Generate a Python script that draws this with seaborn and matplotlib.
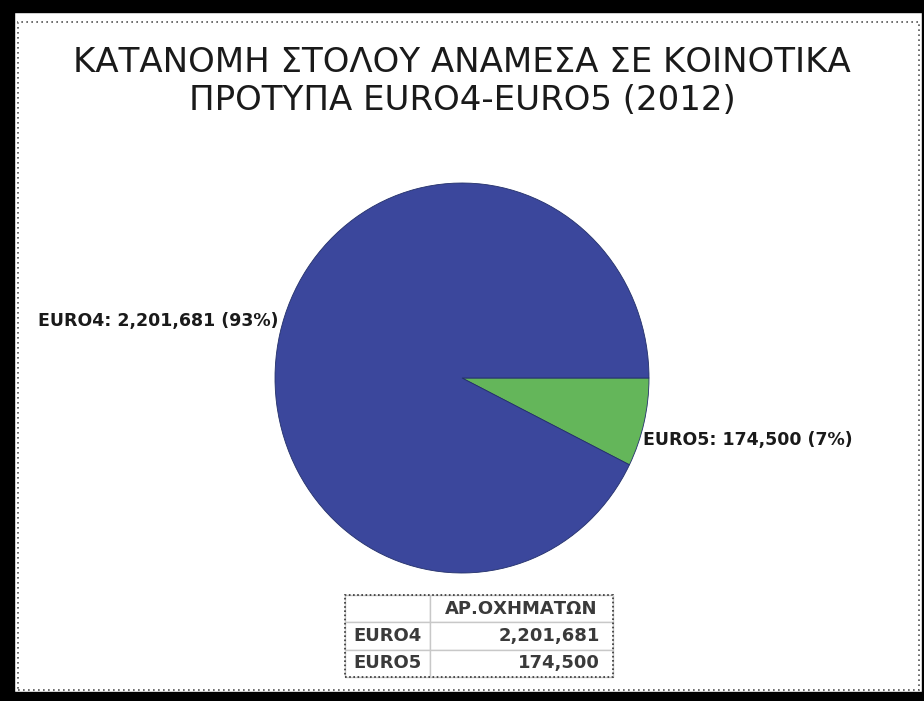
import matplotlib
matplotlib.use("Agg")
import matplotlib.pyplot as plt
from matplotlib.patches import Rectangle
import seaborn as sns

# Fleet data
categories = ["EURO4", "EURO5"]
vehicles = [2201681, 174500]
colors = ["#3B479C", "#64B65A"]
title_lines = ["ΚΑΤΑΝΟΜΗ ΣΤΟΛΟΥ ΑΝΑΜΕΣΑ ΣΕ ΚΟΙΝΟΤΙΚΑ", "ΠΡΟΤΥΠΑ EURO4-EURO5 (2012)"]
table_header = "ΑΡ.ΟΧΗΜΑΤΩΝ"

sns.set_theme(style="white")
plt.rcParams["font.family"] = ["DejaVu Sans"]

W, H = 924, 701
fig = plt.figure(figsize=(W / 100, H / 100), dpi=100)
fig.patch.set_facecolor("white")

def fx(px):
    return px / W

def fy(py):
    return 1 - py / H

# Outer black frame and inner dotted frame
fig.add_artist(Rectangle((0, 0), fx(14), 1, transform=fig.transFigure, color="black", zorder=5))
fig.add_artist(Rectangle((0, fy(12)), 1, 12 / H, transform=fig.transFigure, color="black", zorder=5))
fig.add_artist(Rectangle((0, 0), 1, 9 / H, transform=fig.transFigure, color="black", zorder=5))
fig.add_artist(Rectangle((fx(922), 0), 2 / W, 1, transform=fig.transFigure, color="black", zorder=5))
fig.add_artist(Rectangle((fx(18), fy(690)), fx(919 - 18), (690 - 22) / H,
                         transform=fig.transFigure, fill=False, edgecolor="#555555",
                         linestyle=(0, (1, 2)), linewidth=1.2, zorder=4))

# Title
fig.text(0.5, fy(63), title_lines[0], ha="center", va="center", fontsize=24.5, color="#1a1a1a")
fig.text(0.5, fy(101), title_lines[1], ha="center", va="center", fontsize=24.5, color="#1a1a1a")

# Pie: EURO5 slice starts at 3 o'clock and runs clockwise
ax = fig.add_axes([fx(275), fy(573), fx(649 - 275), (573 - 183) / H])
order = [1, 0]
ax.pie([vehicles[i] for i in order], colors=[colors[i] for i in order],
       startangle=0, counterclock=False, radius=1,
       wedgeprops=dict(edgecolor="#23306a", linewidth=0.6))
ax.set_xlim(-1, 1)
ax.set_ylim(-1, 1)
ax.set_aspect("auto")
ax.axis("off")

total = sum(vehicles)
labels = [f"{c}: {v:,} ({round(100 * v / total)}%)" for c, v in zip(categories, vehicles)]
fig.text(fx(278), fy(321), labels[0], ha="right", va="center", fontsize=12.5,
         fontweight="bold", color="#1a1a1a")
fig.text(fx(643), fy(440), labels[1], ha="left", va="center", fontsize=12.5,
         fontweight="bold", color="#1a1a1a")

# Data table below the pie
tax = fig.add_axes([fx(345), fy(677), fx(613 - 345), (677 - 595) / H])
tax.axis("off")
cell_text = [["", table_header]] + [[c, f"{v:,}"] for c, v in zip(categories, vehicles)]
tbl = tax.table(cellText=cell_text, bbox=[0, 0, 1, 1], colWidths=[85 / 268, 183 / 268])
tbl.auto_set_font_size(False)
for (r, c), cell in tbl.get_celld().items():
    cell.set_edgecolor("#c8c8c8")
    cell.set_linewidth(1.0)
    cell.set_facecolor("white")
    txt = cell.get_text()
    txt.set_fontsize(13)
    txt.set_fontweight("bold")
    txt.set_color("#3a3a3a")
    if c == 0:
        txt.set_ha("left")
        cell.PAD = 0.1
    else:
        txt.set_ha("right")
        cell.PAD = 0.07
    if r == 0 and c == 1:
        txt.set_ha("center")
tax.add_patch(Rectangle((0, 0), 1, 1, transform=tax.transAxes, fill=False,
                        edgecolor="#333333", linestyle=(0, (1, 1.5)), linewidth=1.2,
                        clip_on=False, zorder=5))

fig.savefig("out.png", dpi=100, facecolor="white")
